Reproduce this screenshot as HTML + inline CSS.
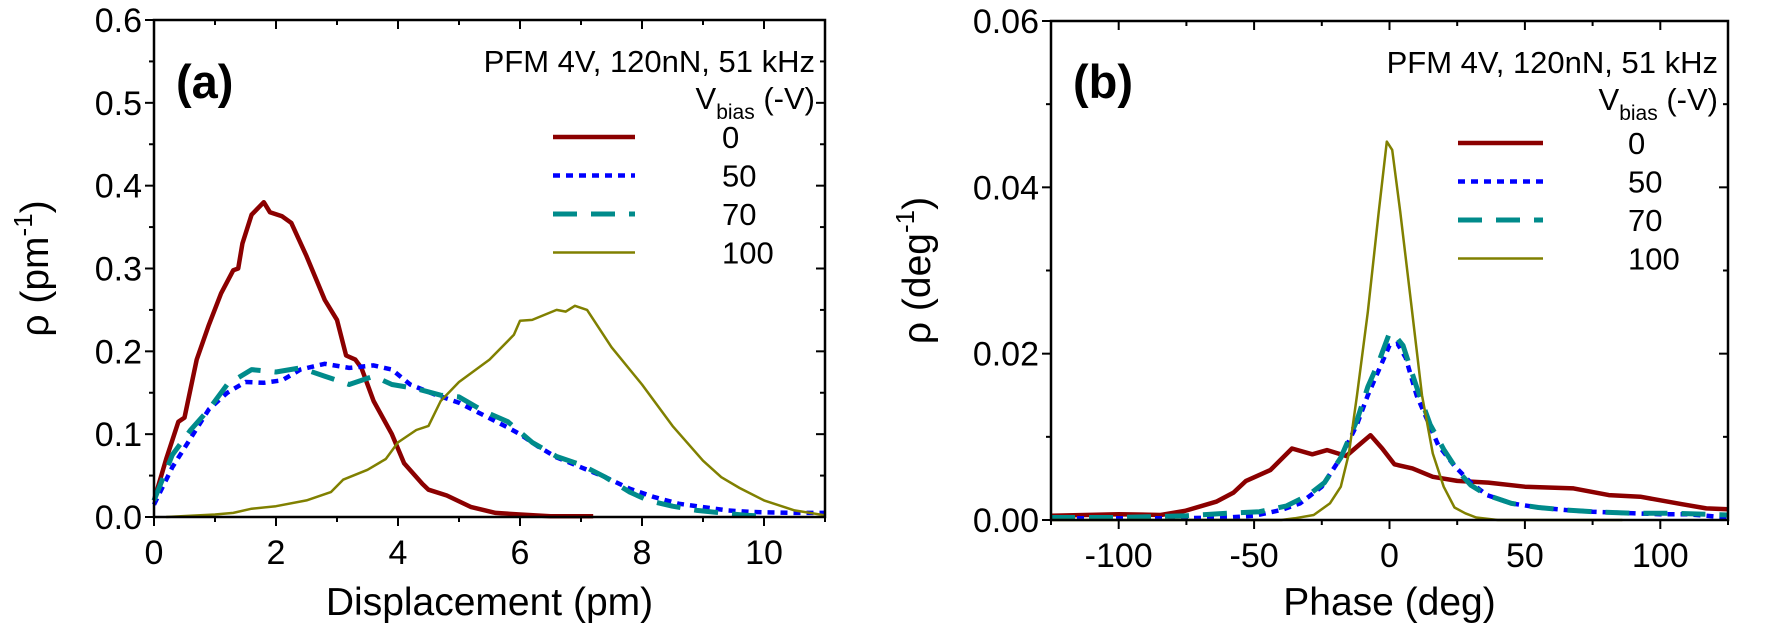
<!DOCTYPE html>
<html><head><meta charset="utf-8"><style>
html,body{margin:0;padding:0;background:#fff;}
svg{display:block;font-family:"Liberation Sans",Arial,sans-serif;}
</style></head><body>
<svg id="fig" width="1773" height="628" viewBox="0 0 1773 628" xmlns="http://www.w3.org/2000/svg"></svg>
<script>
// Panel (a) data
const aX0=[0,0.2,0.4,0.5,0.7,0.9,1.1,1.3,1.38,1.45,1.6,1.8,1.9,2.1,2.25,2.5,2.8,3.0,3.15,3.3,3.4,3.6,3.9,4.1,4.4,4.5,4.8,5.2,5.6,6,6.5,7.2];
const aY0=[0.02,0.07,0.115,0.12,0.19,0.232,0.27,0.298,0.30,0.33,0.365,0.38,0.368,0.363,0.355,0.315,0.262,0.238,0.195,0.19,0.18,0.14,0.10,0.065,0.04,0.033,0.026,0.012,0.005,0.003,0.001,0.001];
const aX50=[0,0.3,0.6,0.9,1.2,1.5,1.8,2.1,2.4,2.8,3.2,3.6,3.9,4.2,4.6,5.0,5.4,5.8,6.0,6.3,6.6,7.0,7.4,7.8,8.2,8.6,9.0,9.4,9.8,10.5,11];
const aY50=[0.015,0.06,0.095,0.13,0.15,0.163,0.162,0.165,0.178,0.185,0.18,0.183,0.178,0.16,0.148,0.138,0.123,0.108,0.10,0.085,0.072,0.06,0.048,0.034,0.024,0.016,0.012,0.008,0.006,0.005,0.005];
const aX70=[0,0.3,0.6,0.9,1.2,1.6,2.0,2.4,2.8,3.2,3.6,3.9,4.3,4.7,5.0,5.4,5.8,6.2,6.6,7.0,7.4,7.8,8.1,8.5,8.9,9.3,9.7,10];
const aY70=[0.02,0.075,0.105,0.13,0.16,0.178,0.175,0.18,0.17,0.16,0.17,0.16,0.155,0.147,0.145,0.128,0.115,0.09,0.073,0.063,0.048,0.03,0.02,0.013,0.008,0.005,0.002,0.001];
const aX100=[0.2,1,1.3,1.6,2,2.5,2.9,3.1,3.5,3.8,4.0,4.3,4.5,4.7,5.0,5.5,5.9,6.0,6.2,6.6,6.75,6.9,7.1,7.5,8.0,8.5,9.0,9.3,9.6,10,10.5,11];
const aY100=[0,0.003,0.005,0.01,0.013,0.02,0.03,0.045,0.057,0.07,0.09,0.105,0.11,0.14,0.163,0.19,0.22,0.237,0.238,0.25,0.248,0.255,0.25,0.205,0.16,0.11,0.068,0.048,0.035,0.02,0.008,0.002];
// Panel (b) data
const bX0=[-125,-100,-84.5,-75.5,-64,-57.6,-53,-44,-36,-28.5,-23,-16,-11.7,-7,-2.7,1.8,8.5,16,25,36.5,50,68,81,92.6,108,117,125];
const bY0=[0.0005,0.0007,0.0006,0.0011,0.0022,0.0033,0.0047,0.006,0.0086,0.0079,0.0084,0.0077,0.0089,0.0102,0.0086,0.0067,0.0062,0.0052,0.0047,0.0045,0.004,0.0038,0.003,0.0028,0.0019,0.0014,0.0013];
const bX50=[-125,-80,-60,-50,-40,-33,-25,-18,-12,-8,-4,0,3,6,10,14,18,24,30,36,45,55,65,75,90,100,110,125];
const bY50=[0.0002,0.0002,0.0003,0.0005,0.0012,0.002,0.004,0.0075,0.0115,0.015,0.018,0.021,0.0212,0.0195,0.015,0.012,0.009,0.0065,0.0045,0.003,0.002,0.0015,0.0012,0.001,0.0008,0.0007,0.0007,0.0003];
const bX70=[-125,-100,-75,-60,-48,-38,-30,-24,-18,-12,-8,-4,0,2,5,10,15,20,25,30,36,45,55,65,75,90,105,125];
const bY70=[0.0003,0.0003,0.0005,0.0008,0.001,0.0017,0.003,0.0045,0.0075,0.012,0.016,0.019,0.0225,0.0222,0.021,0.016,0.0115,0.0085,0.006,0.0042,0.003,0.002,0.0015,0.0012,0.001,0.0008,0.0008,0.0006];
const bX100=[-125,-40,-35,-28,-22,-18,-15,-12,-8,-4,-1,1,4,8,12,16,20,24,28,32,40,86];
const bY100=[0,0,0.0002,0.0006,0.002,0.004,0.008,0.015,0.025,0.037,0.0455,0.0445,0.037,0.026,0.015,0.008,0.004,0.0015,0.0008,0.0003,0,0];
const legendLabels=["0","50","70","100"];
const aXTicks=[0,2,4,6,8,10];
const aYTicks=["0.0","0.1","0.2","0.3","0.4","0.5","0.6"];
const bXTicks=[-100,-50,0,50,100];
const bYTicks=["0.00","0.02","0.04","0.06"];

const NS="http://www.w3.org/2000/svg";
const svg=document.getElementById('fig');
function el(tag,attrs,parent,text){const e=document.createElementNS(NS,tag);for(const k in attrs)e.setAttribute(k,attrs[k]);if(text!==undefined)e.textContent=text;(parent||svg).appendChild(e);return e;}
const styles=[
 {stroke:"#8b0000",w:4.5,dash:""},
 {stroke:"#0000ff",w:4.5,dash:"7 6"},
 {stroke:"#008b8b",w:5,dash:"24 14"},
 {stroke:"#808000",w:2.5,dash:""}];

function panel(cfg){
 const g=el('g',{});
 
 
 const sx=v=>cfg.L+(v-cfg.x0)/(cfg.x1-cfg.x0)*(cfg.R-cfg.L);
 const sy=v=>cfg.B-(v-cfg.y0)/(cfg.y1-cfg.y0)*(cfg.B-cfg.T);
 cfg.series.forEach((s,i)=>{
  const pts=s[0].map((x,j)=>sx(x).toFixed(1)+","+sy(s[1][j]).toFixed(1)).join(" ");
  const p=el('polyline',{points:pts,fill:"none",stroke:styles[i].stroke,"stroke-width":styles[i].w,"stroke-dasharray":styles[i].dash,"stroke-linejoin":"round"},g);
  
  
 });
 const fr=el('rect',{x:cfg.L,y:cfg.T,width:cfg.R-cfg.L,height:cfg.B-cfg.T,fill:"none",stroke:"#000","stroke-width":2.5},g);
 
 
 for(let v=cfg.x0;v<=cfg.x1+1e-9;v+=cfg.xminor){
  const major=Math.abs(Math.round(v/cfg.xmajor)*cfg.xmajor-v)<1e-6;
  const len=major?9:5; const x=sx(v);
  el('line',{x1:x,x2:x,y1:cfg.B,y2:cfg.B+len,stroke:"#000","stroke-width":2},g);
  el('line',{x1:x,x2:x,y1:cfg.T,y2:cfg.T+len,stroke:"#000","stroke-width":2},g);
 }
 cfg.xticks.forEach(v=>{
  const t=el('text',{x:sx(v),y:cfg.B+47,"font-size":34,"text-anchor":"middle"},g,String(v));
  
  
 });
 for(let v=cfg.y0;v<=cfg.y1+1e-9;v+=cfg.yminor){
  const major=Math.abs(Math.round(v/cfg.ymajor)*cfg.ymajor-v)<1e-9;
  const len=major?9:5; const y=sy(v);
  el('line',{x1:cfg.L-len,x2:cfg.L,y1:y,y2:y,stroke:"#000","stroke-width":2},g);
  el('line',{x1:cfg.R-len,x2:cfg.R,y1:y,y2:y,stroke:"#000","stroke-width":2},g);
 }
 cfg.yticks.forEach(s=>{
  const t=el('text',{x:cfg.L-12,y:sy(parseFloat(s))+12,"font-size":34,"text-anchor":"end"},g,s);
  
  
 });
 const xt=el('text',{x:(cfg.L+cfg.R)/2,y:615,"font-size":39,"text-anchor":"middle"},g,cfg.xtitle);
 
 
 const yt=el('text',{transform:`translate(${cfg.ytx},${(cfg.T+cfg.B)/2}) rotate(-90)`,"font-size":39,"text-anchor":"middle"},g);
 
 
 el('tspan',{},yt,"ρ ("+cfg.yunit);
 el('tspan',{dy:-16,"font-size":26},yt,"-1");
 el('tspan',{dy:16},yt,")");
 const pl=el('text',{x:cfg.L+22,y:98,"font-size":47,"font-weight":"bold"},g,cfg.label);
 
 
 const lg=el('g',{},g);
 
 
 el('text',{x:cfg.R-10,y:cfg.T+52,"font-size":31,"text-anchor":"end"},lg,"PFM 4V, 120nN, 51 kHz");
 const vb=el('text',{x:cfg.R-10,y:cfg.T+89,"font-size":31,"text-anchor":"end"},lg);
 el('tspan',{},vb,"V");
 el('tspan',{dy:10,"font-size":21},vb,"bias");
 el('tspan',{dy:-10},vb," (-V)");
 legendLabels.forEach((lab,i)=>{
  const y=cfg.legY0+i*38.5;
  const ln=el('line',{x1:cfg.legX,x2:cfg.legX+cfg.legW,y1:y,y2:y,stroke:styles[i].stroke,"stroke-width":styles[i].w,"stroke-dasharray":styles[i].dash},lg);
  
  
  const tx=el('text',{x:cfg.legTX,y:y+11,"font-size":31},lg,lab);
  
  
 });
}
panel({name:'panel-a',L:154,R:825,T:20,B:517,x0:0,x1:11,y0:0,y1:0.6,xmajor:2,xminor:1,ymajor:0.1,yminor:0.05,
 xticks:aXTicks,yticks:aYTicks,xtitle:"Displacement (pm)",ytx:48,yunit:"pm",label:"(a)",
 legX:553,legW:82,legY0:137,legTX:722,
 series:[[aX0,aY0],[aX50,aY50],[aX70,aY70],[aX100,aY100]]});
panel({name:'panel-b',L:1051,R:1728,T:21,B:520,x0:-125,x1:125,y0:0,y1:0.06,xmajor:50,xminor:25,ymajor:0.02,yminor:0.01,
 xticks:bXTicks,yticks:bYTicks,xtitle:"Phase (deg)",ytx:930,yunit:"deg",label:"(b)",
 legX:1458,legW:85,legY0:143,legTX:1628,
 series:[[bX0,bY0],[bX50,bY50],[bX70,bY70],[bX100,bY100]]});
</script>
</body></html>
